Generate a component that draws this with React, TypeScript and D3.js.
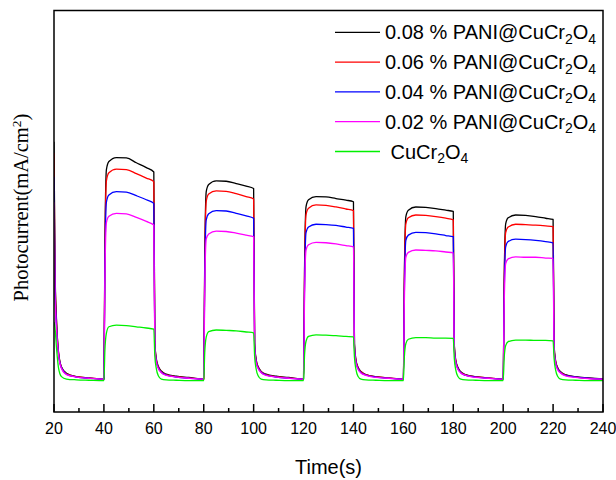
import React from "react";
import * as d3 from "d3";

// Sampling instants (s), shared by every series
const times: number[] = [
  20, 20.4, 21, 21.8, 23, 25, 29, 34, 40,
  40.4, 41, 42, 45, 49, 53, 57, 60, 60.4, 61, 61.8, 63, 65, 69, 74, 80,
  80.4, 81, 82, 85, 89, 93, 97, 100, 100.4, 101, 101.8, 103, 105, 109, 114, 120,
  120.4, 121, 122, 125, 129, 133, 137, 140, 140.4, 141, 141.8, 143, 145, 149, 154, 160,
  160.4, 161, 162, 165, 169, 173, 177, 180, 180.4, 181, 181.8, 183, 185, 189, 194, 200,
  200.4, 201, 202, 205, 209, 213, 217, 220, 220.4, 221, 221.8, 223, 225, 229, 234, 240,
];

// Photocurrent (arbitrary units) for each sample
const pani008: number[] = [
  6.72, 3.6, 2.3, 1.5, 1.12, 0.96, 0.88, 0.85, 0.82,
  4.13, 6.03, 6.23, 6.33, 6.32, 6.2, 6.08, 5.97, 1.75, 1.32, 1.14, 1.02, 0.94, 0.89, 0.86, 0.82,
  3.78, 5.48, 5.66, 5.75, 5.74, 5.68, 5.62, 5.56, 1.72, 1.31, 1.13, 1.01, 0.94, 0.89, 0.86, 0.82,
  3.54, 5.11, 5.28, 5.36, 5.35, 5.31, 5.27, 5.23, 1.7, 1.3, 1.12, 1.01, 0.93, 0.88, 0.85, 0.82,
  3.39, 4.86, 5.02, 5.1, 5.09, 5.06, 5.02, 4.99, 1.68, 1.29, 1.12, 1.0, 0.93, 0.88, 0.85, 0.82,
  3.27, 4.68, 4.83, 4.9, 4.89, 4.86, 4.82, 4.79, 1.66, 1.28, 1.11, 1.0, 0.93, 0.88, 0.85, 0.82,
];
const pani006: number[] = [
  6.44, 3.45, 2.25, 1.48, 1.11, 0.95, 0.88, 0.85, 0.82,
  3.95, 5.75, 5.95, 6.04, 6.03, 5.93, 5.82, 5.73, 1.72, 1.3, 1.12, 1.0, 0.93, 0.88, 0.85, 0.82,
  3.63, 5.24, 5.42, 5.5, 5.49, 5.43, 5.36, 5.3, 1.7, 1.29, 1.12, 1.0, 0.93, 0.88, 0.85, 0.82,
  3.42, 4.91, 5.07, 5.15, 5.14, 5.1, 5.05, 5.01, 1.68, 1.28, 1.11, 1.0, 0.93, 0.88, 0.85, 0.82,
  3.27, 4.68, 4.83, 4.9, 4.89, 4.86, 4.82, 4.78, 1.66, 1.27, 1.1, 0.99, 0.92, 0.88, 0.85, 0.82,
  3.13, 4.46, 4.6, 4.67, 4.66, 4.65, 4.63, 4.61, 1.64, 1.26, 1.1, 0.99, 0.92, 0.87, 0.84, 0.82,
];
const pani004: number[] = [
  5.85, 3.2, 2.15, 1.45, 1.1, 0.94, 0.87, 0.84, 0.82,
  3.62, 5.22, 5.4, 5.48, 5.47, 5.38, 5.28, 5.19, 1.68, 1.27, 1.1, 0.99, 0.92, 0.87, 0.84, 0.82,
  3.33, 4.78, 4.93, 5.01, 5.0, 4.94, 4.88, 4.82, 1.66, 1.26, 1.1, 0.99, 0.92, 0.87, 0.84, 0.82,
  3.13, 4.46, 4.6, 4.67, 4.66, 4.64, 4.6, 4.57, 1.64, 1.25, 1.09, 0.98, 0.92, 0.87, 0.84, 0.82,
  3.01, 4.27, 4.4, 4.47, 4.46, 4.43, 4.39, 4.36, 1.62, 1.24, 1.09, 0.98, 0.91, 0.87, 0.84, 0.82,
  2.91, 4.11, 4.24, 4.3, 4.29, 4.27, 4.24, 4.21, 1.6, 1.23, 1.08, 0.98, 0.91, 0.87, 0.84, 0.82,
];
const pani002: number[] = [
  5.22, 2.95, 2.05, 1.42, 1.08, 0.93, 0.87, 0.84, 0.82,
  3.29, 4.71, 4.87, 4.94, 4.93, 4.84, 4.74, 4.65, 1.62, 1.24, 1.08, 0.98, 0.91, 0.87, 0.84, 0.82,
  3.03, 4.3, 4.43, 4.5, 4.49, 4.45, 4.4, 4.36, 1.6, 1.23, 1.08, 0.98, 0.91, 0.87, 0.84, 0.82,
  2.86, 4.03, 4.16, 4.22, 4.21, 4.18, 4.14, 4.11, 1.58, 1.22, 1.07, 0.97, 0.91, 0.86, 0.84, 0.82,
  2.75, 3.85, 3.97, 4.03, 4.02, 4.01, 3.98, 3.96, 1.57, 1.22, 1.07, 0.97, 0.91, 0.86, 0.84, 0.82,
  2.64, 3.69, 3.81, 3.86, 3.85, 3.85, 3.83, 3.82, 1.55, 1.21, 1.06, 0.97, 0.9, 0.86, 0.83, 0.82,
];
const pristine: number[] = [
  2.24, 2.1, 1.6, 1.1, 0.88, 0.82, 0.8, 0.79, 0.78,
  1.54, 1.96, 2.12, 2.16, 2.15, 2.12, 2.09, 2.06, 1.4, 1.08, 0.9, 0.82, 0.8, 0.79, 0.78, 0.78,
  1.47, 1.86, 2.0, 2.04, 2.03, 2.02, 1.99, 1.97, 1.38, 1.07, 0.9, 0.82, 0.8, 0.79, 0.78, 0.78,
  1.41, 1.76, 1.88, 1.92, 1.91, 1.9, 1.88, 1.87, 1.36, 1.06, 0.89, 0.82, 0.8, 0.79, 0.78, 0.78,
  1.37, 1.7, 1.81, 1.85, 1.85, 1.84, 1.84, 1.83, 1.34, 1.05, 0.89, 0.82, 0.8, 0.79, 0.78, 0.78,
  1.34, 1.65, 1.75, 1.79, 1.79, 1.78, 1.78, 1.77, 1.33, 1.05, 0.89, 0.82, 0.8, 0.79, 0.78, 0.78,
];

const seriesPrefixes: string[] = ["0.08 % PANI@", "0.06 % PANI@", "0.04 % PANI@", "0.02 % PANI@", " "];
const seriesColors: string[] = ["#000000", "#ff0000", "#0000ff", "#ff00ff", "#00f000"];
const seriesValues: number[][] = [pani008, pani006, pani004, pani002, pristine];

const xMajorTicks: number[] = [20, 40, 60, 80, 100, 120, 140, 160, 180, 200, 220, 240];
const xMinorTicks: number[] = [30, 50, 70, 90, 110, 130, 150, 170, 190, 210, 230];

const W = 616;
const H = 480;
const left = 54;
const right = 603;
const top = 10.5;
const bottom = 412;

const SANS = "'Liberation Sans', Arial, sans-serif";
const SERIF = "'Liberation Serif', 'Times New Roman', serif";

export default function App() {
  const x = d3.scaleLinear().domain([20, 240]).range([left, right]);
  const y = d3.scaleLinear().domain([0, 10]).range([bottom, top - 0.5]);

  const line = d3
    .line<number>()
    .x((_, i) => x(times[i]))
    .y((v) => y(v))
    .curve(d3.curveMonotoneX);

  const legendX0 = 335;
  const legendX1 = 380;
  const legendY0 = 32.3;
  const legendStep = 29.8;

  return (
    <svg
      width={W}
      height={H}
      style={{ position: "absolute", left: 0, top: 0, background: "#fff" }}
    >
      <defs>
        <clipPath id="plot-area">
          <rect x={left} y={top} width={right - left} height={bottom - top} />
        </clipPath>
      </defs>

      <g clipPath="url(#plot-area)">
        {seriesValues.map((vals, k) => (
          <path
            key={k}
            d={line(vals) ?? ""}
            fill="none"
            stroke={seriesColors[k]}
            strokeWidth={1.3}
            strokeLinejoin="round"
          />
        ))}
      </g>

      {/* frame */}
      <rect
        x={left}
        y={top}
        width={right - left}
        height={bottom - top}
        fill="none"
        stroke="#000"
        strokeWidth={1.5}
      />

      {/* x ticks, pointing inward */}
      {xMajorTicks.map((t) => (
        <line key={"M" + t} x1={x(t)} x2={x(t)} y1={bottom} y2={bottom - 8} stroke="#000" strokeWidth={1.5} />
      ))}
      {xMinorTicks.map((t) => (
        <line key={"m" + t} x1={x(t)} x2={x(t)} y1={bottom} y2={bottom - 4} stroke="#000" strokeWidth={1.5} />
      ))}
      {xMajorTicks.map((t) => (
        <text
          key={"L" + t}
          x={x(t)}
          y={434}
          textAnchor="middle"
          fontFamily={SANS}
          fontSize={16}
          fill="#000"
        >
          {t}
        </text>
      ))}

      <text x={(left + right) / 2} y={474} textAnchor="middle" fontFamily={SANS} fontSize={20} fill="#000">
        Time(s)
      </text>

      <text
        transform="translate(28,207.5) rotate(-90)"
        textAnchor="middle"
        fontFamily={SERIF}
        fontSize={20.5}
        fill="#000"
      >
        Photocurrent(mA/cm
        <tspan dy={-7} fontSize={13.5}>2</tspan>
        <tspan dy={7}>)</tspan>
      </text>

      {/* legend */}
      {seriesPrefixes.map((p, k) => {
        const ly = legendY0 + k * legendStep;
        return (
          <g key={"lg" + k}>
            <line x1={legendX0} x2={legendX1} y1={ly} y2={ly} stroke={seriesColors[k]} strokeWidth={1.3} />
            <text
              x={385}
              y={ly + 7}
              fontFamily={SANS}
              fontSize={20}
              fill="#000"
              style={{ whiteSpace: "pre" }}
            >
              {p + "CuCr"}
              <tspan dy={4.5} fontSize={14}>2</tspan>
              <tspan dy={-4.5}>O</tspan>
              <tspan dy={4.5} fontSize={14}>4</tspan>
            </text>
          </g>
        );
      })}
    </svg>
  );
}
